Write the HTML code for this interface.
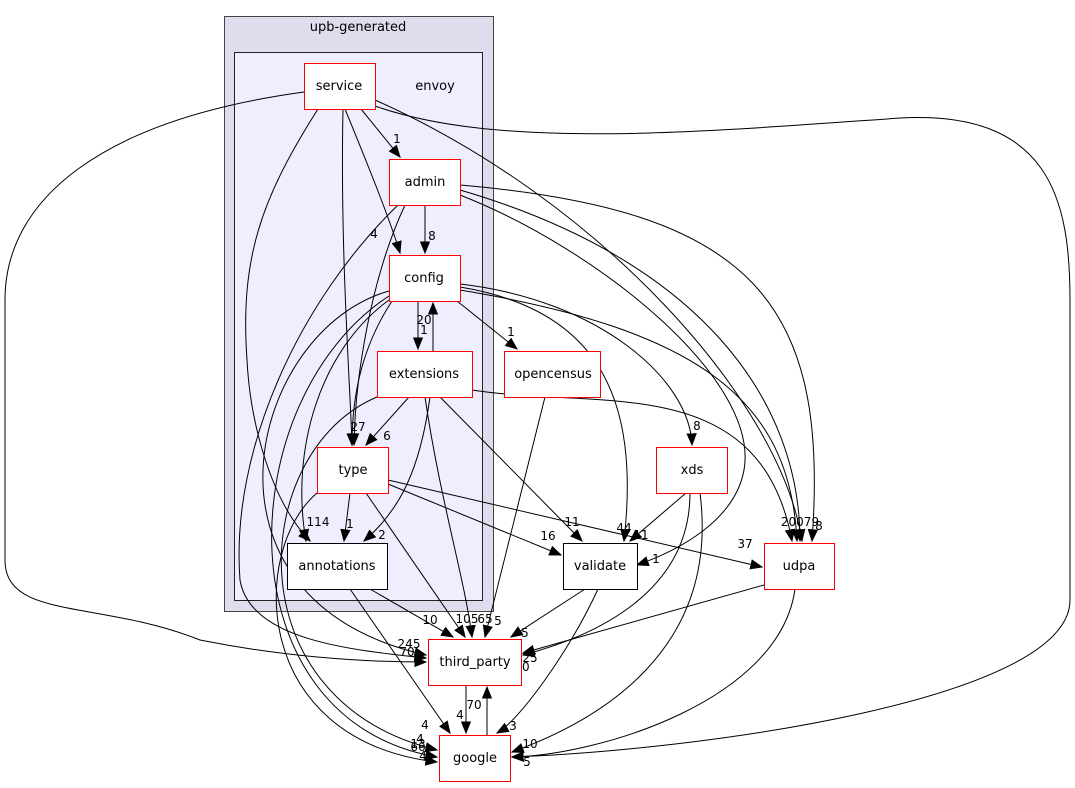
<!DOCTYPE html>
<html><head><meta charset="utf-8"><style>
html,body{margin:0;padding:0;background:#fff;}
svg{display:block;font-family:"DejaVu Sans","Liberation Sans",sans-serif;}
.n{fill:#fff;stroke:#ff0000;stroke-width:1}
.nb{fill:#fff;stroke:#000;stroke-width:1}
.e{fill:none;stroke:#000;stroke-width:1}
.t{font-size:13px;text-anchor:middle}
.l{font-size:12px;text-anchor:middle}
</style></head><body>
<svg width="1075" height="788" viewBox="0 0 1075 788">
<defs><marker id="a" viewBox="0 0 10 10" refX="9" refY="5" markerWidth="13" markerHeight="13" markerUnits="userSpaceOnUse" orient="auto"><path d="M0,1 L10,5 L0,9 z" fill="#000"/></marker></defs>
<rect x="224.5" y="16.5" width="269" height="595" fill="#dddded" stroke="#444"/>
<text x="358" y="31" class="t">upb-generated</text>
<rect x="234.5" y="52.5" width="248" height="548" fill="#eeeeff" stroke="#222"/>
<text x="435" y="90" class="t">envoy</text>
<g class="e" marker-end="url(#a)">
<path d="M361,109 L400,157"/>
<path d="M345,109 C370,170 390,220 400,253"/>
<path d="M343,109 C340,250 350,380 352,445"/>
<path d="M318,109 C260,200 240,260 247,360 C250,420 270,500 310,541"/>
<path d="M375,100 C600,200 780,400 802,541"/>
<path d="M375,106 C500,150 700,132 900,118 C1050,110 1070,200 1070,300 L1070,600 C1070,700 700,750 512,757"/>
<path d="M304,92 C100,120 5,200 5,300 L5,560 C5,620 100,600 200,640 C300,660 380,662 426,662"/>
<path d="M425,205 L425,253"/>
<path d="M460,195 C600,250 760,380 744,470 C735,520 680,550 637,565"/>
<path d="M460,190 C700,260 800,400 800,541"/>
<path d="M460,185 C750,210 830,300 812,541"/>
<path d="M405,205 C370,280 355,380 354,445"/>
<path d="M398,205 C300,300 230,450 240,580 C250,640 350,650 426,658"/>
<path d="M418,301 L418,349"/>
<path d="M433,351 L433,303"/>
<path d="M457,301 L517,349"/>
<path d="M460,284 C600,300 690,380 692,445"/>
<path d="M460,287 C600,310 640,400 624,541"/>
<path d="M460,290 C700,330 790,400 797,541"/>
<path d="M392,301 C360,350 352,400 352,445"/>
<path d="M389,300 C320,350 290,450 306,541"/>
<path d="M389,291 C250,330 180,600 426,655"/>
<path d="M389,296 C230,400 220,720 437,757"/>
<path d="M409,397 L366,445"/>
<path d="M430,397 C420,470 400,510 364,541"/>
<path d="M425,397 C440,500 465,580 472,637"/>
<path d="M440,397 L582,541"/>
<path d="M472,390 C600,410 760,370 792,541"/>
<path d="M377,397 C250,450 230,700 437,750"/>
<path d="M545,397 L485,637"/>
<path d="M350,493 L344,541"/>
<path d="M388,484 L561,555"/>
<path d="M388,480 L762,567"/>
<path d="M366,493 L465,637"/>
<path d="M317,493 C250,550 250,740 437,762"/>
<path d="M370,589 L453,637"/>
<path d="M350,589 L450,733"/>
<path d="M585,589 L511,637"/>
<path d="M598,589 C570,650 520,720 497,733"/>
<path d="M686,493 L630,541"/>
<path d="M690,493 C690,600 580,640 523,655"/>
<path d="M700,493 C720,650 600,720 512,752"/>
<path d="M764,585 L523,653"/>
<path d="M795,589 C780,700 600,755 512,757"/>
<path d="M466,685 L466,733"/>
<path d="M487,735 L487,687"/>
</g>
<g class="l">
<text x="397" y="143">1</text><text x="374" y="238">4</text><text x="432" y="240">8</text>
<text x="424" y="324">20</text><text x="424" y="334">1</text><text x="511" y="336">1</text>
<text x="697" y="430">8</text><text x="358" y="431">27</text><text x="387" y="440">6</text>
<text x="318" y="526">114</text><text x="350" y="528">1</text><text x="382" y="539">2</text>
<text x="572" y="526">11</text><text x="624" y="532">44</text><text x="641" y="539">11</text>
<text x="548" y="540">16</text><text x="745" y="548">37</text><text x="656" y="563">1</text>
<text x="800" y="526">20079</text><text x="819" y="530">8</text>
<text x="430" y="624">10</text><text x="467" y="623">105</text><text x="485" y="623">65</text><text x="498" y="625">5</text>
<text x="525" y="637">5</text><text x="409" y="648">245</text><text x="407" y="656">70</text>
<text x="530" y="662">25</text><text x="522" y="671">90</text>
<text x="474" y="709">70</text><text x="460" y="719">4</text><text x="450" y="746">2</text>
<text x="423" y="760">4</text><text x="420" y="743">4</text><text x="425" y="729">4</text>
<text x="418" y="748">13</text><text x="418" y="751">66</text><text x="513" y="730">3</text>
<text x="530" y="748">10</text><text x="527" y="766">5</text>
</g>
<rect class="n" x="304.5" y="63.5" width="71" height="46"/><text x="339" y="90" class="t">service</text>
<rect class="n" x="389.5" y="159.5" width="71" height="46"/><text x="425" y="186" class="t">admin</text>
<rect class="n" x="389.5" y="255.5" width="71" height="46"/><text x="424" y="282" class="t">config</text>
<rect class="n" x="377.5" y="351.5" width="95" height="46"/><text x="424" y="378" class="t">extensions</text>
<rect class="n" x="504.5" y="351.5" width="96" height="46"/><text x="553" y="378" class="t">opencensus</text>
<rect class="n" x="317.5" y="447.5" width="71" height="46"/><text x="353" y="474" class="t">type</text>
<rect class="nb" x="287.5" y="543.5" width="100" height="46"/><text x="337" y="570" class="t">annotations</text>
<rect class="n" x="656.5" y="447.5" width="71" height="46"/><text x="692" y="474" class="t">xds</text>
<rect class="nb" x="563.5" y="543.5" width="74" height="46"/><text x="600" y="570" class="t">validate</text>
<rect class="n" x="764.5" y="543.5" width="70" height="46"/><text x="799" y="570" class="t">udpa</text>
<rect class="n" x="428.5" y="639.5" width="93" height="46"/><text x="475" y="666" class="t">third_party</text>
<rect class="n" x="439.5" y="735.5" width="71" height="46"/><text x="475" y="762" class="t">google</text>
</svg>
</body></html>
